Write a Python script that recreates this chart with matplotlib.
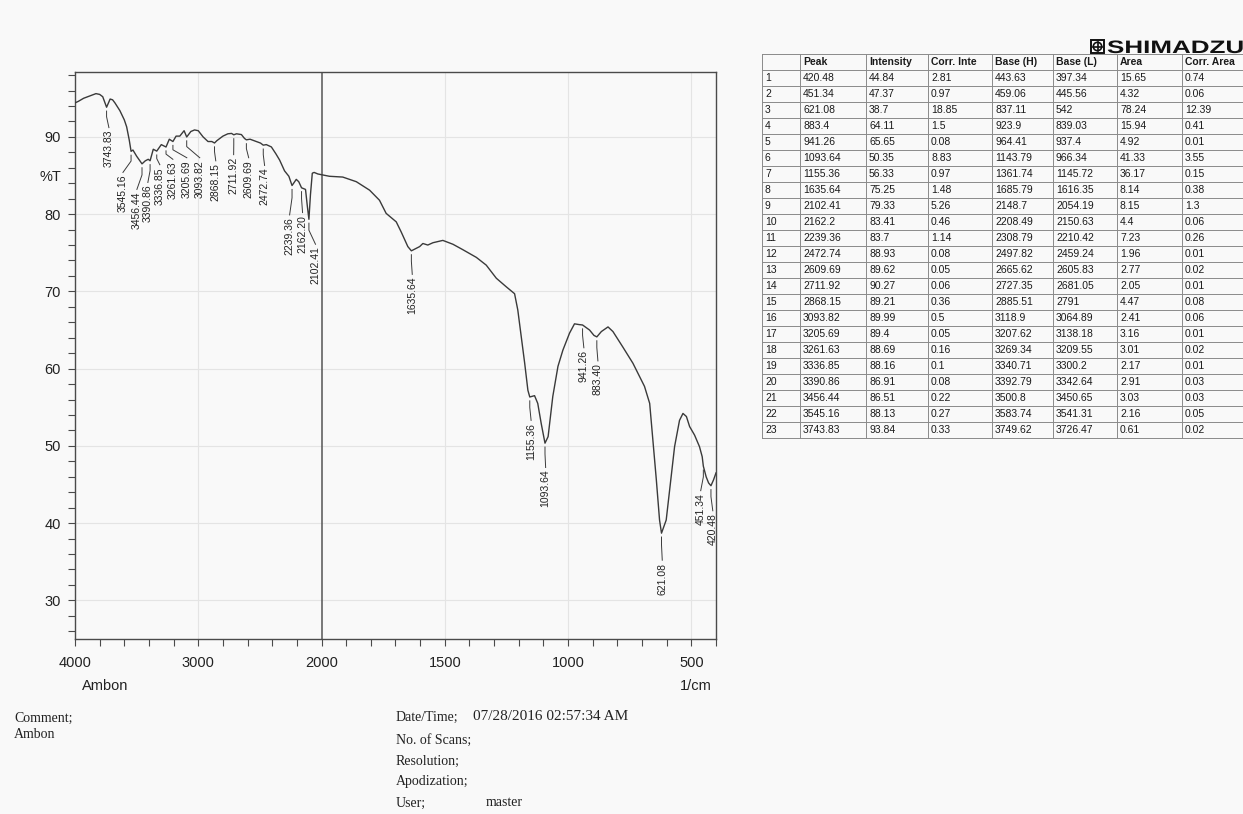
import numpy as np
import matplotlib
matplotlib.use("Agg")
import matplotlib.pyplot as plt
from matplotlib.font_manager import FontProperties
from matplotlib.patches import PathPatch, Rectangle, Circle
from matplotlib.textpath import TextPath
from matplotlib.transforms import Affine2D
from matplotlib.lines import Line2D

plt.rcParams['font.family'] = ['Liberation Sans', 'DejaVu Sans']

W, H = 1243, 814
PAPER = '#f9f9f9'
INK = '#3a3a3a'
SPINE = '#4a4a4a'
GRID = '#e4e4e4'

# spectrum (1/cm, %T)
wavenumber = [4000, 3973, 3930, 3880, 3830, 3800, 3775, 3743.83, 3715, 3695, 3676, 3636,
              3600, 3581, 3560, 3545.16, 3530, 3500, 3474, 3456.44, 3430, 3406, 3390.86,
              3365, 3336.85, 3300, 3261.63, 3235, 3205.69, 3180, 3150, 3115, 3093.82, 3060,
              3030, 3000, 2961, 2921, 2890, 2868.15, 2850, 2800, 2760, 2730, 2711.92, 2690,
              2650, 2625, 2609.69, 2580, 2529, 2495, 2472.74, 2448, 2407, 2370, 2340, 2300,
              2265, 2239.36, 2205, 2185, 2162.2, 2130, 2115, 2102.41, 2090, 2075, 2060,
              2030, 2000, 1968, 1914, 1859, 1805, 1765, 1738, 1697, 1677, 1650, 1635.64,
              1602, 1589, 1569, 1548, 1508, 1467, 1427, 1372, 1332, 1291, 1251, 1217, 1204,
              1190, 1176, 1163, 1155.36, 1136, 1123, 1109, 1093.64, 1081, 1062, 1041, 1021,
              994, 974, 955, 941.26, 913, 895, 883.4, 865, 838, 818, 778, 737, 690, 669,
              656, 642, 629, 621.08, 602, 588, 568, 548, 534, 520, 507, 487, 467, 456,
              451.34, 440, 430, 420.48, 410, 400]
transmittance = [94.4, 94.6, 95.0, 95.3, 95.6, 95.5, 95.2, 93.84, 94.9, 94.8, 94.4, 93.4,
                 92.2, 91.3, 89.6, 88.13, 88.3, 87.5, 86.9, 86.51, 86.9, 87.1, 86.91,
                 88.4, 88.16, 89.0, 88.69, 89.7, 89.4, 90.1, 90.1, 90.8, 89.99, 90.7,
                 90.9, 90.8, 90.0, 89.4, 89.4, 89.21, 89.5, 90.1, 90.4, 90.45, 90.27, 90.4,
                 90.3, 89.8, 89.62, 89.7, 89.4, 89.2, 88.93, 89.0, 88.7, 87.8, 87.0, 85.6,
                 84.9, 83.7, 84.5, 84.2, 83.41, 83.2, 81.0, 79.33, 82.5, 85.3, 85.4,
                 85.2, 85.1, 84.9, 84.8, 84.2, 83.1, 81.8, 80.1, 79.0, 77.7, 75.8, 75.25,
                 75.8, 76.2, 76.0, 76.3, 76.6, 76.1, 75.4, 74.4, 73.4, 71.7, 70.6, 69.7, 67.6,
                 64.1, 60.7, 57.2, 56.33, 56.5, 55.5, 52.9, 50.35, 51.2, 56.4, 60.3, 62.4,
                 64.6, 65.8, 65.7, 65.65, 65.0, 64.3, 64.11, 64.8, 65.4, 64.8, 62.8, 60.7, 57.7, 55.5,
                 50.8, 45.6, 40.4, 38.7, 40.4, 44.3, 49.9, 53.3, 54.2, 53.8, 52.5, 51.4, 49.9, 48.6,
                 47.37, 46.0, 45.2, 44.84, 45.6, 46.5]

# peak table
peak = [420.48, 451.34, 621.08, 883.4, 941.26, 1093.64, 1155.36, 1635.64, 2102.41, 2162.2,
        2239.36, 2472.74, 2609.69, 2711.92, 2868.15, 3093.82, 3205.69, 3261.63, 3336.85,
        3390.86, 3456.44, 3545.16, 3743.83]
intensity = [44.84, 47.37, 38.7, 64.11, 65.65, 50.35, 56.33, 75.25, 79.33, 83.41, 83.7, 88.93,
             89.62, 90.27, 89.21, 89.99, 89.4, 88.69, 88.16, 86.91, 86.51, 88.13, 93.84]
corr_int = [2.81, 0.97, 18.85, 1.5, 0.08, 8.83, 0.97, 1.48, 5.26, 0.46, 1.14, 0.08, 0.05, 0.06,
            0.36, 0.5, 0.05, 0.16, 0.1, 0.08, 0.22, 0.27, 0.33]
base_h = [443.63, 459.06, 837.11, 923.9, 964.41, 1143.79, 1361.74, 1685.79, 2148.7, 2208.49,
          2308.79, 2497.82, 2665.62, 2727.35, 2885.51, 3118.9, 3207.62, 3269.34, 3340.71,
          3392.79, 3500.8, 3583.74, 3749.62]
base_l = [397.34, 445.56, 542, 839.03, 937.4, 966.34, 1145.72, 1616.35, 2054.19, 2150.63,
          2210.42, 2459.24, 2605.83, 2681.05, 2791, 3064.89, 3138.18, 3209.55, 3300.2,
          3342.64, 3450.65, 3541.31, 3726.47]
area = [15.65, 4.32, 78.24, 15.94, 4.92, 41.33, 36.17, 8.14, 8.15, 4.4, 7.23, 1.96, 2.77, 2.05,
        4.47, 2.41, 3.16, 3.01, 2.17, 2.91, 3.03, 2.16, 0.61]
corr_area = [0.74, 0.06, 12.39, 0.41, 0.01, 3.55, 0.15, 0.38, 1.3, 0.06, 0.26, 0.01, 0.02, 0.01,
             0.08, 0.06, 0.01, 0.02, 0.01, 0.03, 0.03, 0.05, 0.02]
table_header = ['', 'Peak', 'Intensity', 'Corr. Inte', 'Base (H)', 'Base (L)', 'Area', 'Corr. Area']

x_major = [4000, 3000, 2000, 1500, 1000, 500]


def fwd(x):
    x = np.asarray(x, dtype=float)
    return np.where(x > 2000, 2000 + (x - 2000) / 2, x)


def inv(x):
    x = np.asarray(x, dtype=float)
    return np.where(x > 2000, 2000 + (x - 2000) * 2, x)


fig = plt.figure(figsize=(W / 100, H / 100), dpi=100, facecolor=PAPER)

# spectrum axes, 1/cm above 2000 is squeezed to half
ax = fig.add_axes([75 / W, 1 - 639 / H, 641 / W, 567 / H])
ax.set_facecolor(PAPER)
ax.set_xscale('function', functions=(fwd, inv))
ax.set_xlim(4000, 400)
ax.set_ylim(25, 98.4)

for v in [3000, 1500, 1000, 500]:
    ax.axvline(v, color=GRID, lw=0.8, zorder=0)
for v in range(30, 91, 10):
    ax.axhline(v, color=GRID, lw=0.8, zorder=0)
ax.axvline(2000, color='#555555', lw=1.1, zorder=1)

ax.plot(wavenumber, transmittance, color=INK, lw=1.0, zorder=3)

# peak labels: text column and top of text
label_x = [413, 462, 618, 879, 936, 1091, 1150, 1632, 2049, 2154, 2259, 2462, 2591, 2713,
           2858, 2988, 3093, 3206, 3312, 3409, 3498, 3611, 3725]
label_top = [41.3, 43.9, 34.9, 60.7, 62.4, 46.9, 53.0, 71.9, 75.8, 79.9, 79.6, 86.0, 87.0,
             87.4, 86.6, 87.0, 87.0, 86.8, 86.1, 83.8, 82.9, 85.1, 90.9]
for p, t, lx, lt in zip(peak, intensity, label_x, label_top):
    y0 = t - 0.5
    yk = y0 - 0.3 * (y0 - lt)
    ax.plot([p, p, lx], [y0, yk, lt + 0.3], color=INK, lw=0.7, zorder=3, clip_on=False)
    ax.text(lx, lt, f"{p:.2f}", rotation=90, ha='center', va='top', fontsize=7.5,
            color='#222222', clip_on=False, zorder=4)

ax.set_xticks(x_major)
ax.set_xticklabels([str(v) for v in x_major])
x_minor = list(range(3800, 2000, -200)) + [v for v in range(1900, 399, -100) if v not in x_major]
ax.set_xticks(x_minor, minor=True)
ax.set_yticks(range(30, 91, 10))
ax.set_yticks(range(26, 99, 2), minor=True)
ax.tick_params(which='both', direction='out', length=5, width=0.8, color=SPINE,
               labelsize=10.5, labelcolor='#222222')
ax.tick_params(axis='x', pad=7)
ax.tick_params(axis='y', pad=5)
for s in ax.spines.values():
    s.set_color(SPINE)
    s.set_linewidth(1.0)

fig.text(40 / W, 1 - 177 / H, '%T', fontsize=10.5, ha='left', va='center', color='#222222')
fig.text(82 / W, 1 - 686 / H, 'Ambon', fontsize=10.5, ha='left', va='center', color='#222222')
fig.text(680 / W, 1 - 686 / H, '1/cm', fontsize=10.5, ha='left', va='center', color='#222222')

# footer
serif = dict(family='Liberation Serif', fontsize=10, color='#222222', va='center', ha='left')
fig.text(14 / W, 1 - 718 / H, 'Comment;', **serif)
fig.text(14 / W, 1 - 735 / H, 'Ambon', **serif)
fig.text(396 / W, 1 - 717 / H, 'Date/Time;', **serif)
fig.text(473 / W, 1 - 717 / H, '07/28/2016 02:57:34 AM', **dict(serif, fontsize=11))
fig.text(396 / W, 1 - 740 / H, 'No. of Scans;', **serif)
fig.text(396 / W, 1 - 761 / H, 'Resolution;', **serif)
fig.text(396 / W, 1 - 782 / H, 'Apodization;', **serif)
fig.text(396 / W, 1 - 803 / H, 'User;', **serif)
fig.text(486 / W, 1 - 803 / H, 'master', **serif)

# peak table
tx0, tx1, ty0, ty1 = 762, 1243, 54, 440
tab = fig.add_axes([tx0 / W, 1 - ty1 / H, (tx1 - tx0) / W, (ty1 - ty0) / H])
tab.set_xlim(tx0, tx1)
tab.set_ylim(ty1, ty0)
tab.axis('off')
col_edges = [762, 800, 866, 928, 992, 1053, 1117, 1182, 1262]
row_h = 16
n_rows = len(peak) + 1
for c in col_edges:
    tab.plot([c, c], [ty0, ty0 + n_rows * row_h], color='#8a8a8a', lw=0.7)
for r in range(n_rows + 1):
    tab.plot([col_edges[0], col_edges[-1]], [ty0 + r * row_h] * 2, color='#8a8a8a', lw=0.7)
for j, name in enumerate(table_header):
    tab.text(col_edges[j] + 3, ty0 + row_h / 2, name, fontsize=7.5, fontweight='bold',
             va='center', ha='left', color='#1a1a1a', clip_on=True)
columns = [peak, intensity, corr_int, base_h, base_l, area, corr_area]
for i in range(len(peak)):
    yc = ty0 + (i + 1.5) * row_h
    tab.text(col_edges[0] + 3, yc, str(i + 1), fontsize=7.5, va='center', ha='left',
             color='#1a1a1a', clip_on=True)
    for j, col in enumerate(columns):
        tab.text(col_edges[j + 1] + 3, yc, f"{col[i]:g}", fontsize=7.5, va='center',
                 ha='left', color='#1a1a1a', clip_on=True)

# logo
lx0, ly0 = 1091, H - 53
fig.add_artist(Rectangle((lx0, ly0), 13, 13, fill=False, ec='#111111', lw=1.4, transform=None))
fig.add_artist(Circle((lx0 + 6.5, ly0 + 6.5), 4.2, fill=False, ec='#111111', lw=1.2, transform=None))
fig.add_artist(Line2D([lx0 + 6.5, lx0 + 6.5], [ly0 + 2, ly0 + 11], color='#111111', lw=1.2, transform=None))
fig.add_artist(Line2D([lx0 + 2, lx0 + 11], [ly0 + 6.5, ly0 + 6.5], color='#111111', lw=1.2, transform=None))
tp = TextPath((0, 0), 'SHIMADZU', size=1, prop=FontProperties(family='Liberation Sans', weight='bold'))
fig.add_artist(PathPatch(tp, transform=Affine2D().scale(26, 18).translate(1107, ly0),
                         fc='#111111', lw=0))

fig.savefig('out.png', dpi=100, facecolor=fig.get_facecolor())
